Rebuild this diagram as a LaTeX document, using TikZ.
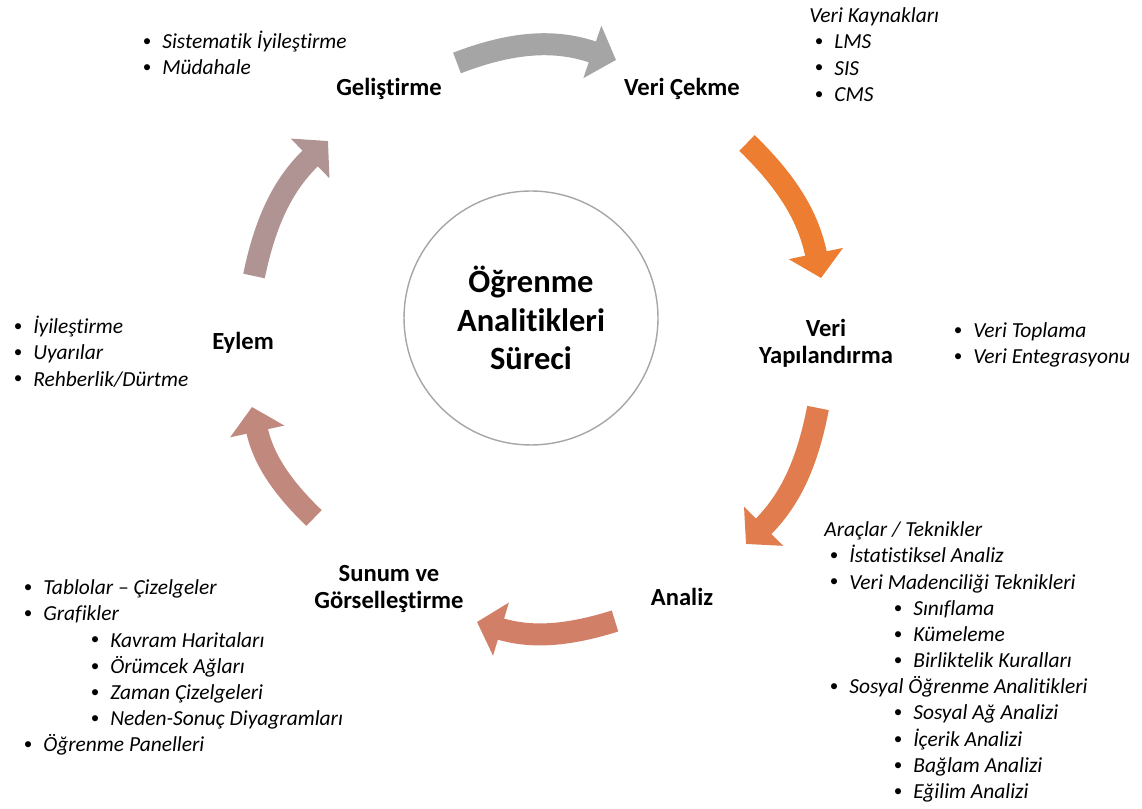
\documentclass[tikz,border=0pt]{standalone}
\usepackage{fontspec}
\setmainfont{Carlito}[Ligatures={NoCommon}]
\usepackage{xcolor}
\usetikzlibrary{arrows.meta, positioning}
\definecolor{stepgray}{HTML}{A5A5A5}
\definecolor{steporange}{HTML}{ED7D31}
\definecolor{stepcoral}{HTML}{E07C4D}
\definecolor{stepsalmon}{HTML}{D17F66}
\definecolor{steprose}{HTML}{C1897D}
\definecolor{stepmauve}{HTML}{B09494}
\definecolor{hubline}{HTML}{A6A6A6}
\newcommand{\bitem}{\strut\makebox[0.42cm][l]{\upshape\hspace*{0.03cm}\raisebox{0.2ex}{\scalebox{0.8}{\textbullet}}}}
\newcommand{\bsub}{\hspace*{1.34cm}\bitem}
\tikzset{
  stage/.style={font=\bfseries\fontsize{14}{15.4}\selectfont, align=center, inner sep=0pt},
  hub/.style={circle, draw=hubline, line width=0.8pt, minimum size=5.08cm,
              align=center, font=\bfseries\fontsize{18.5}{22}\selectfont},
  notes/.style={anchor=north west, inner sep=0pt, align=left,
                font=\itshape\fontsize{12.2}{14.9}\selectfont},
  cycarrow/.style={line width=0.44cm, -{Triangle[width=1.08cm,length=0.5cm]}, bend left=17},
}

\begin{document}
\begin{tikzpicture}[x=0.02cm, y=0.02cm]
\useasboundingbox (0,0) rectangle (1142,808);

\node[hub] (hub) at (531,490) {Öğrenme\\Analitikleri\\Süreci};

% cycle stages
\node[stage] (improve) at (389,719) {Geliştirme};
\node[stage] (fetch) at (682,719) {Veri Çekme};
\node[stage] (struct) at (826,465) {Veri\\Yapılandırma};
\node[stage] (analysis) at (682,211) {Analiz};
\node[stage] (present) at (389,219) {Sunum ve\\Görselleştirme};
\node[stage] (action) at (243,465) {Eylem};

% arrow ends
\coordinate (a1s) at (457,745);  \coordinate (a1e) at (616,748);
\coordinate (a2s) at (747,665);  \coordinate (a2e) at (821,530);
\coordinate (a3s) at (818,400);  \coordinate (a3e) at (746,264);
\coordinate (a4s) at (615,187);  \coordinate (a4e) at (477,186);
\coordinate (a5s) at (314,290);  \coordinate (a5e) at (252,401);
\coordinate (a6s) at (254,532);  \coordinate (a6e) at (328,667);

\draw[cycarrow, stepgray, bend left=20] (a1s) to (a1e);
\draw[cycarrow, steporange] (a2s) to (a2e);
\draw[cycarrow, stepcoral] (a3s) to (a3e);
\draw[cycarrow, stepsalmon] (a4s) to (a4e);
\draw[cycarrow, steprose] (a5s) to (a5e);
\draw[cycarrow, stepmauve] (a6s) to (a6e);

% notes
\node[notes] (improvenotes) at (141,778)
  {\bitem Sistematik İyileştirme\\ \bitem Müdahale};
\node[notes] (fetchnotes) at (809,804)
  {\strut Veri Kaynakları\\ \hspace*{0.08cm}\bitem LMS\\
   \hspace*{0.08cm}\bitem SIS\\ \hspace*{0.08cm}\bitem CMS};
\node[notes] (structnotes) at (952,489)
  {\bitem Veri Toplama\\ \bitem Veri Entegrasyonu};
\node[notes] (actionnotes) at (12,493)
  {\bitem İyileştirme\\ \bitem Uyarılar\\ \bitem Rehberlik/Dürtme};
\node[notes] (analysisnotes) at (824,290)
  {\strut Araçlar / Teknikler\\
   \hspace*{0.08cm}\bitem İstatistiksel Analiz\\
   \hspace*{0.08cm}\bitem Veri Madenciliği Teknikleri\\
   \hspace*{0.02cm}\bsub Sınıflama\\
   \hspace*{0.02cm}\bsub Kümeleme\\
   \hspace*{0.02cm}\bsub Birliktelik Kuralları\\
   \hspace*{0.08cm}\bitem Sosyal Öğrenme Analitikleri\\
   \hspace*{0.02cm}\bsub Sosyal Ağ Analizi\\
   \hspace*{0.02cm}\bsub İçerik Analizi\\
   \hspace*{0.02cm}\bsub Bağlam Analizi\\
   \hspace*{0.02cm}\bsub Eğilim Analizi};
\node[notes] (presentnotes) at (22,232)
  {\bitem Tablolar – Çizelgeler\\ \bitem Grafikler\\
   \bsub Kavram Haritaları\\ \bsub Örümcek Ağları\\
   \bsub Zaman Çizelgeleri\\ \bsub Neden-Sonuç Diyagramları\\
   \bitem Öğrenme Panelleri};
\end{tikzpicture}
\end{document}
